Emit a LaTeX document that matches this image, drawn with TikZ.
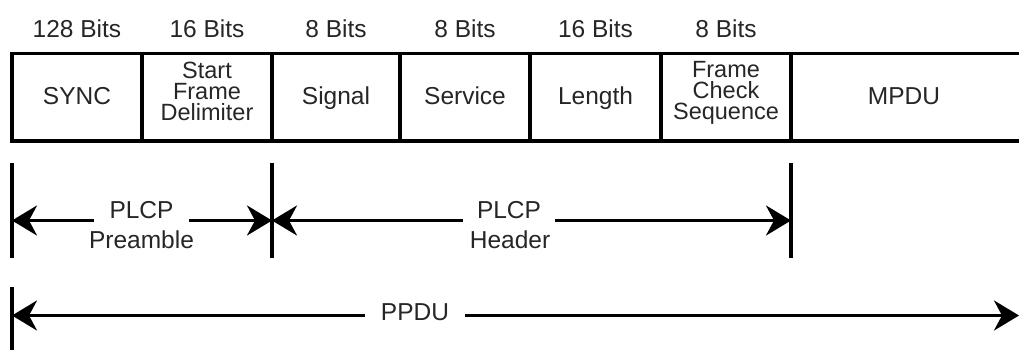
\documentclass[tikz,border=0pt]{standalone}
\usepackage{fontspec}
\setmainfont{Liberation Sans}
\usetikzlibrary{arrows.meta}
\begin{document}
\begin{tikzpicture}[x=1pt,y=-1pt,
  txt/.style={inner sep=0pt, font=\fontsize{24.5}{21}\selectfont, text=black!85},
  ftxt/.style={inner sep=0pt, font=\fontsize{23.5}{21}\selectfont, text=black!85},
  field/.style={draw=black, line width=3.5pt, minimum height=87.3pt, inner sep=0pt},
  tickline/.style={draw=black, line width=3.3pt},
  dimline/.style={draw=black, line width=3pt, arrows={-Stealth[length=25pt, width=30pt, inset=8pt]}},
  gap/.style={inner xsep=#1},
]
\useasboundingbox (0,0) rectangle (1019,349);

% frame fields
\node[field, minimum width=130pt] (sync)    at (77,97.35)  {};
\node[field, minimum width=130pt] (sfd)     at (207,97.35) {};
\node[field, minimum width=128pt] (signal)  at (336,97.35) {};
\node[field, minimum width=130pt] (service) at (465,97.35) {};
\node[field, minimum width=131pt] (length)  at (595.5,97.35) {};
\node[field, minimum width=130pt] (fcs)     at (726,97.35) {};
\node[field, minimum width=230pt] (mpdu)    at (906,97.35) {};

% field texts
\node[txt, anchor=base] (tsync) at (77,104) {SYNC};
\node[ftxt, anchor=north, align=center] (tsfd) at (207,61.5) {Start\\Frame\\Delimiter};
\node[txt, anchor=base] (tsignal) at (336,104) {Signal};
\node[txt, anchor=base] (tservice) at (465,104) {Service};
\node[txt, anchor=base] (tlength) at (595.5,104) {Length};
\node[ftxt, anchor=north, align=center] (tfcs) at (726,61.5) {Frame\\Check\\Sequence};
\node[txt, anchor=base] (tmpdu) at (904,104) {MPDU};

% bit sizes
\node[txt, anchor=base] (b1) at (77,37)    {128 Bits};
\node[txt, anchor=base] (b2) at (207,37)   {16 Bits};
\node[txt, anchor=base] (b3) at (336,37)   {8 Bits};
\node[txt, anchor=base] (b4) at (465,37)   {8 Bits};
\node[txt, anchor=base] (b5) at (595.5,37) {16 Bits};
\node[txt, anchor=base] (b6) at (726,37)   {8 Bits};

% ticks
\coordinate (k1a) at (12,163);  \coordinate (k1b) at (12,258);
\coordinate (k2a) at (272,163); \coordinate (k2b) at (272,258);
\coordinate (k3a) at (791,163); \coordinate (k3b) at (791,258);
\coordinate (k4a) at (12,287);  \coordinate (k4b) at (12,352);
\draw[tickline] (k1a) -- (k1b);
\draw[tickline] (k2a) -- (k2b);
\draw[tickline] (k3a) -- (k3b);
\draw[tickline] (k4a) -- (k4b);

% arrow ends
\coordinate (e1) at (12,220.5);
\coordinate (e2) at (272,220.5);
\coordinate (e3) at (791,220.5);
\coordinate (e4) at (12,315.5);
\coordinate (e5) at (1019,315.5);

% PLCP preamble
\node[txt, gap=15pt, anchor=base] (plcpA) at (141.5,218) {PLCP};
\node[txt, anchor=base] (pream) at (141.5,248.5) {Preamble};
\draw[dimline] (plcpA.west |- e1) -- (e1);
\draw[dimline] (plcpA.east |- e2) -- (e2);

% PLCP header
\node[txt, gap=14pt, anchor=base] (plcpB) at (509,218) {PLCP};
\node[txt, anchor=base] (header) at (510,248.5) {Header};
\draw[dimline] (plcpB.west |- e2) -- (e2);
\draw[dimline] (plcpB.east |- e3) -- (e3);

% PPDU
\node[txt, gap=16pt, anchor=base] (ppdu) at (415,320) {PPDU};
\draw[dimline] (ppdu.west |- e4) -- (e4);
\draw[dimline] (ppdu.east |- e5) -- (e5);
\end{tikzpicture}
\end{document}
